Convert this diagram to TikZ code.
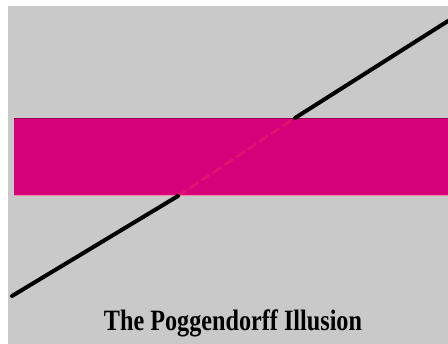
\documentclass[tikz,border=0pt]{standalone}
\usepackage{fontspec}
\setmainfont{Liberation Serif}
\definecolor{bggray}{RGB}{201,201,201}
\definecolor{band}{RGB}{214,0,122}
\definecolor{bandedge}{RGB}{150,0,80}
\definecolor{faintline}{RGB}{245,40,95}
\tikzset{
  ray/.style={line width=4pt, black, line cap=round},
  hidden/.style={line width=2.5pt, faintline, opacity=0.45, dash pattern=on 10pt off 4pt},
}
\begin{document}
\begin{tikzpicture}[x=1pt,y=-1pt]
\useasboundingbox (0,0) rectangle (448,344);
\fill[white] (0,0) rectangle (448,344);
\fill[bggray] (8,6) rectangle (448,344);
\fill[band] (14,118) rectangle (448,196);
\draw[bandedge, line width=1pt] (14,118.5) -- (448,118.5);
\draw[pink!70!band, line width=1pt] (14,196) -- (448,196);
\coordinate (ua) at (295,118);
\coordinate (ub) at (448,21);
\coordinate (la) at (178,196);
\coordinate (lb) at (12,296);
\draw[hidden] (la) -- (ua);
\draw[ray] (ua) -- (ub);
\draw[ray] (la) -- (lb);
\node[font=\bfseries\fontsize{29.5}{30}\selectfont, xscale=0.82, anchor=base] (title) at (233,331) {The Poggendorff Illusion};
\end{tikzpicture}
\end{document}
